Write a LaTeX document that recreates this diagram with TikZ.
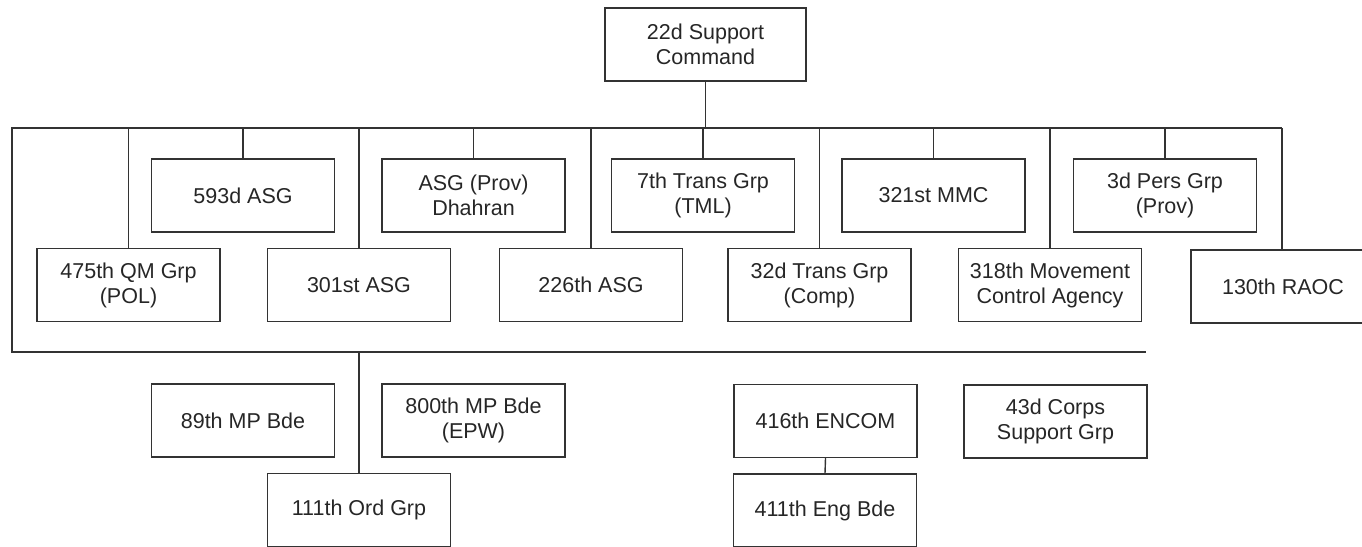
\documentclass[tikz,border=0pt]{standalone}
\usepackage{fontspec}
\setmainfont{Liberation Sans}
\begin{document}
\begin{tikzpicture}[x=1pt,y=-1pt,
  unit/.style={draw=black!80, line width=1.4pt, minimum width=183pt, minimum height=73pt,
    inner sep=0pt, align=center, text=black!85, font=\fontsize{21.5}{25}\selectfont},
  link/.style={draw=black!80, line width=1.4pt}]
\useasboundingbox (0,0) rectangle (1362,546);
\clip (0,0) rectangle (1362,546);
% top
\node[unit, minimum width=201pt] (hq) at (705.5,44.5) {22d Support\\Command};
% upper row
\node[unit] (a593) at (243,195.5) {593d ASG};
\node[unit] (aprov) at (473.5,195.5) {ASG (Prov)\\Dhahran};
\node[unit] (t7) at (703,195.5) {7th Trans Grp\\(TML)};
\node[unit] (mmc) at (933.5,195.5) {321st MMC};
\node[unit] (pers) at (1165,195.5) {3d Pers Grp\\(Prov)};
% lower row
\node[unit] (qm) at (128.5,285) {475th QM Grp\\(POL)};
\node[unit] (a301) at (359,285) {301st ASG};
\node[unit] (a226) at (591,285) {226th ASG};
\node[unit] (t32) at (819.5,285) {32d Trans Grp\\(Comp)};
\node[unit] (mca) at (1050,285) {318th Movement\\Control Agency};
\node[unit, minimum width=220pt] (raoc) at (1301,286.5) {\hspace*{-36pt}130th RAOC};
% bottom rows
\node[unit] (mp89) at (243,420.5) {89th MP Bde};
\node[unit] (mp800) at (473.5,420.5) {800th MP Bde\\(EPW)};
\node[unit] (encom) at (825.5,421) {416th ENCOM};
\node[unit] (csg) at (1055.5,421.5) {43d Corps\\Support Grp};
\node[unit] (ord) at (359,510) {111th Ord Grp};
\node[unit] (eng) at (825,510.5) {411th Eng Bde};
% bus coordinates
\coordinate (busL) at (12,128);
\coordinate (busR) at (1282,128);
\coordinate (lowL) at (12,352);
\coordinate (lowR) at (1146,352);
% connectors
\draw[link] (hq.south) -- (hq.south |- busL);
\draw[link] (busR) -- (busL) -- (lowL) -- (lowR);
\foreach \n in {a593,aprov,t7,mmc,pers,qm,a301,a226,t32,mca}
  \draw[link] (\n.north) -- (\n.north |- busL);
\draw[link] (busR) -- (busR |- raoc.north);
\draw[link] (ord.north) -- (ord.north |- lowL);
\draw[link] (encom.south) -- (eng.north);
\end{tikzpicture}
\end{document}
